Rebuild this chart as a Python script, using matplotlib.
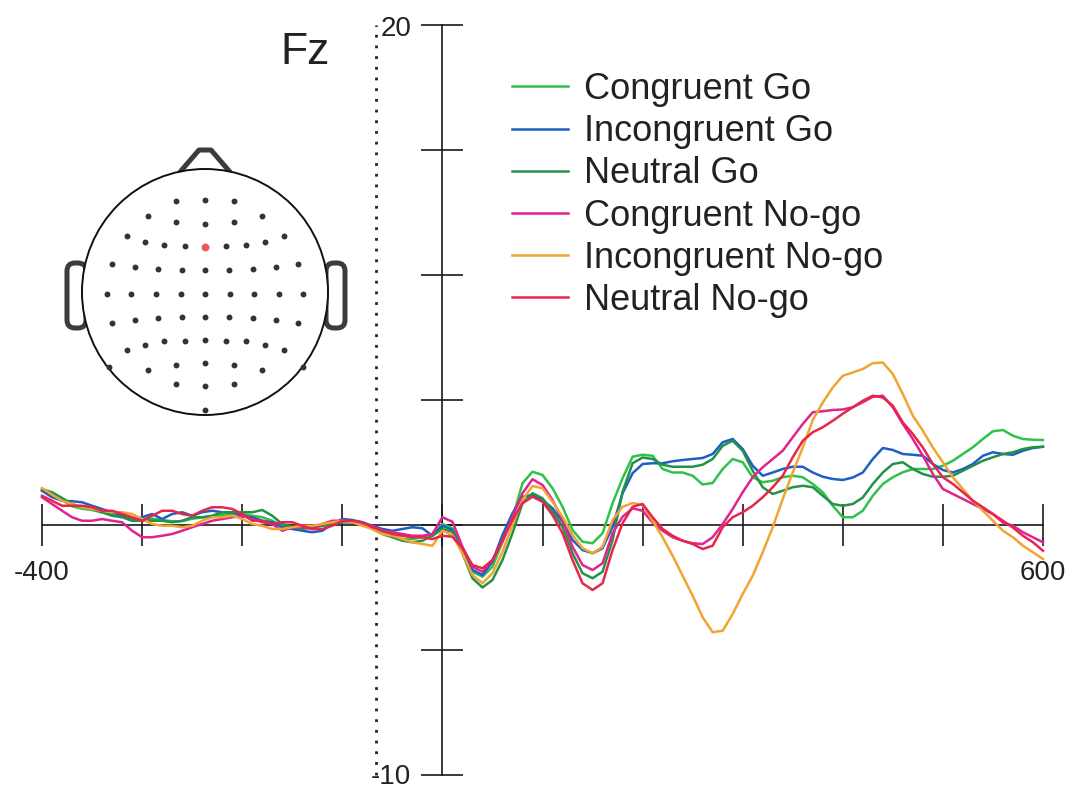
import numpy as np
import matplotlib.pyplot as plt
from matplotlib.patches import Circle, FancyBboxPatch

plt.rcParams['font.family'] = ['Liberation Sans', 'DejaVu Sans']

# ERP at Fz, amplitude in uV sampled every 10 ms from -400 to 600 ms
times = np.arange(-400, 601, 10)

congruent_go = [
    1.40, 1.20, 1.00, 0.75, 0.65, 0.60, 0.50, 0.45, 0.35, 0.25, 0.20, 0.25, 0.20, 0.15, 0.15, 0.25, 0.30, 0.35, 0.40, 0.45, 0.45,
    0.37, 0.31, 0.17, -0.03, -0.09, -0.09, -0.09, -0.03, 0.04, 0.11, 0.11, 0.04, -0.09, -0.29, -0.43, -0.56, -0.56, -0.49, -0.36, 0.04,
    -0.13, -1.07, -1.87, -2.07, -1.67, -0.67, 0.27, 1.67, 2.13, 2.00, 1.47, 0.73, -0.20, -0.67, -0.73, -0.33, 0.87, 1.87, 2.73, 2.81,
    2.77, 2.24, 2.10, 2.10, 1.97, 1.62, 1.68, 2.24, 2.64, 2.51, 1.91, 1.71, 1.77, 1.91, 1.97, 1.91, 1.64, 1.31, 0.77,
    0.31, 0.31, 0.57, 1.17, 1.64, 1.91, 2.11, 2.24, 2.24, 2.24, 2.37, 2.57, 2.84, 3.11, 3.44, 3.75, 3.80, 3.57, 3.44, 3.41, 3.40]
incongruent_go = [
    1.37, 1.11, 0.97, 0.95, 0.91, 0.77, 0.64, 0.51, 0.37, 0.17, 0.31, 0.44, 0.24, 0.44, 0.51, 0.37, 0.51, 0.57, 0.51, 0.51, 0.37,
    0.31, 0.17, 0.11, -0.09, -0.16, -0.23, -0.29, -0.23, 0.04, 0.24, 0.20, 0.11, -0.03, -0.16, -0.23, -0.16, -0.09, -0.13, -0.43, -0.03,
    -0.20, -1.07, -1.80, -2.00, -1.47, -0.40, 0.47, 1.13, 1.20, 1.00, 0.67, 0.13, -0.60, -1.00, -1.13, -0.93, -0.07, 1.27, 2.07, 2.44,
    2.47, 2.47, 2.55, 2.60, 2.64, 2.68, 2.84, 3.31, 3.44, 3.04, 2.37, 1.97, 2.10, 2.24, 2.33, 2.33, 2.10, 1.93, 1.84,
    1.80, 1.90, 2.10, 2.64, 3.08, 3.00, 2.84, 2.81, 2.77, 2.44, 2.20, 2.10, 2.24, 2.44, 2.77, 2.91, 2.84, 2.81, 2.97, 3.08, 3.13]
neutral_go = [
    1.44, 1.31, 1.08, 0.84, 0.71, 0.64, 0.51, 0.37, 0.31, 0.17, 0.17, 0.17, 0.17, 0.11, 0.17, 0.31, 0.31, 0.37, 0.51, 0.51, 0.51,
    0.51, 0.60, 0.37, 0.04, -0.09, -0.16, -0.09, -0.03, 0.04, 0.11, 0.11, 0.04, -0.16, -0.36, -0.49, -0.63, -0.69, -0.63, -0.43, -0.16,
    -0.27, -1.13, -2.13, -2.50, -2.20, -1.40, -0.33, 0.87, 1.27, 1.07, 0.53, -0.07, -1.13, -1.93, -2.13, -1.87, -0.60, 1.33, 2.47, 2.70,
    2.64, 2.41, 2.33, 2.33, 2.33, 2.41, 2.64, 3.17, 3.37, 2.97, 2.17, 1.51, 1.24, 1.37, 1.51, 1.57, 1.51, 1.17, 0.84,
    0.77, 0.84, 1.10, 1.64, 2.10, 2.44, 2.51, 2.24, 2.04, 1.93, 1.93, 1.97, 2.17, 2.37, 2.57, 2.71, 2.84, 2.91, 3.04, 3.11, 3.13]
congruent_nogo = [
    1.11, 0.84, 0.57, 0.31, 0.17, 0.17, 0.24, 0.17, 0.11, -0.23, -0.49, -0.49, -0.43, -0.36, -0.23, -0.09, 0.04, 0.17, 0.24, 0.31, 0.37,
    0.24, 0.11, 0.04, -0.23, -0.09, -0.09, -0.16, 0.04, 0.17, 0.17, 0.11, 0.04, -0.03, -0.23, -0.29, -0.36, -0.43, -0.43, -0.36, 0.31,
    0.13, -0.87, -1.67, -1.87, -1.40, -0.67, 0.33, 1.27, 1.83, 1.60, 1.00, 0.20, -0.87, -1.60, -1.80, -1.53, -0.33, 0.33, 0.67, 0.57,
    0.10, -0.23, -0.49, -0.63, -0.73, -0.76, -0.49, 0.04, 0.64, 1.31, 1.91, 2.31, 2.64, 2.97, 3.51, 4.04, 4.51, 4.55, 4.60,
    4.62, 4.71, 4.91, 5.13, 5.17, 4.71, 4.04, 3.44, 2.77, 2.04, 1.44, 1.24, 1.04, 0.84, 0.64, 0.44, 0.10, -0.03, -0.29, -0.49, -0.69]
incongruent_nogo = [
    1.48, 1.21, 0.97, 0.84, 0.71, 0.64, 0.57, 0.51, 0.51, 0.44, 0.24, 0.04, -0.03, -0.03, -0.09, -0.03, 0.17, 0.31, 0.31, 0.37, 0.24,
    0.04, -0.03, -0.16, -0.16, -0.09, -0.03, -0.03, 0.04, 0.11, 0.17, 0.11, -0.03, -0.16, -0.36, -0.43, -0.56, -0.69, -0.76, -0.83, -0.23,
    -0.40, -1.13, -2.00, -2.33, -1.93, -1.07, 0.00, 1.00, 1.56, 1.47, 0.93, 0.33, -0.40, -0.93, -1.13, -0.87, 0.20, 0.73, 0.88, 0.80,
    0.17, -0.49, -1.23, -2.03, -2.83, -3.69, -4.29, -4.23, -3.56, -2.76, -2.03, -1.09, -0.09, 1.04, 2.10, 3.10, 4.20, 4.90, 5.50,
    5.97, 6.10, 6.24, 6.47, 6.50, 6.04, 5.24, 4.37, 3.77, 3.10, 2.51, 1.91, 1.44, 0.97, 0.57, 0.17, -0.23, -0.49, -0.83, -1.09, -1.36]
neutral_nogo = [
    1.17, 0.97, 0.77, 0.77, 0.77, 0.71, 0.57, 0.57, 0.44, 0.31, 0.17, 0.37, 0.57, 0.57, 0.44, 0.37, 0.57, 0.71, 0.71, 0.64, 0.44,
    0.17, 0.17, 0.04, 0.11, 0.11, -0.03, -0.16, -0.16, -0.03, 0.17, 0.17, 0.11, -0.09, -0.23, -0.36, -0.43, -0.49, -0.49, -0.56, -0.43,
    -0.47, -0.93, -1.60, -1.73, -1.40, -0.60, 0.20, 0.87, 1.13, 0.93, 0.40, -0.33, -1.40, -2.33, -2.60, -2.33, -1.00, 0.07, 0.73, 0.84,
    0.31, -0.16, -0.43, -0.63, -0.76, -0.96, -0.83, -0.09, 0.31, 0.51, 0.77, 1.11, 1.51, 1.97, 2.71, 3.37, 3.71, 3.91, 4.17,
    4.45, 4.71, 4.97, 5.17, 5.10, 4.77, 4.10, 3.64, 3.10, 2.44, 1.91, 1.64, 1.31, 0.97, 0.71, 0.44, 0.17, -0.10, -0.43, -0.69, -1.03]

labels = ['Congruent Go', 'Incongruent Go', 'Neutral Go',
          'Congruent No-go', 'Incongruent No-go', 'Neutral No-go']
series = [congruent_go, incongruent_go, neutral_go,
          congruent_nogo, incongruent_nogo, neutral_nogo]
colors = ['#2ec24b', '#1d5fc4', '#239248', '#e0248f', '#f2a431', '#e8264c']

x_ticks = np.arange(-400, 601, 100)
y_ticks = np.arange(-10, 21, 5)
marker_time = -66  # dotted reference line (ms)

# electrode layout (pixel offsets from head centre), Fz highlighted
elec_dx = [-29, 0, 29, -57, 57, -29, 0, 29, -78, 79, -60, 60, -41, -20, 21, 41,
           -93, 93, -70, 71, -47, 48, -23, 0, 24,
           -98, -74, -49, -24, 0, 25, 49, 74, 98,
           -93, 93, -70, 71, -47, 48, -23, 0, 24,
           -78, 79, -60, 60, -41, -20, 0, 21, 41,
           -96, 98, -57, 57, -29, 0, 29, -29, 0, 29, 0]
elec_dy = [-91, -92, -91, -76, -76, -70, -68, -70, -56, -56, -50, -50, -47, -46, -46, -47,
           -28, -28, -25, -25, -23, -23, -22, -22, -22,
           2, 2, 2, 2, 2, 2, 2, 2, 2,
           31, 31, 28, 28, 26, 26, 25, 25, 25,
           58, 58, 53, 53, 49, 49, 48, 49, 49,
           75, 75, 78, 78, 73, 71, 73, 92, 94, 92, 118]
fz_dx, fz_dy = 0, -45

fig = plt.figure(figsize=(10.77, 7.88), dpi=100)
ax = fig.add_axes([0, 0, 1, 1])
ax.set_xlim(-442, 634)
ax.set_ylim(-10.52, 21.0)

for vals, lab, col in zip(series, labels, colors):
    ax.plot(times, vals, color=col, lw=1.8, label=lab, zorder=3)

# axes crossing at the origin
axis_col = '#1a1a1a'
text_col = '#222222'
for side in ['top', 'right']:
    ax.spines[side].set_visible(False)
ax.spines['left'].set_position(('data', 0))
ax.spines['bottom'].set_position(('data', 0))
ax.spines['left'].set_bounds(-10, 20)
ax.spines['bottom'].set_bounds(-400, 600)
for side in ['left', 'bottom']:
    ax.spines[side].set_linewidth(1.2)
    ax.spines[side].set_color(axis_col)
ax.set_xticks(x_ticks)
ax.set_yticks(y_ticks)
ax.tick_params(axis='both', direction='inout', length=30, width=1.2,
               color=axis_col, labelbottom=False, labelleft=False)

# only the end values are labelled
ax.text(x_ticks[0], -1.9, str(x_ticks[0]), fontsize=20, color=text_col,
        ha='center', va='center')
ax.text(x_ticks[-1], -1.9, str(x_ticks[-1]), fontsize=20, color=text_col,
        ha='center', va='center')
ax.text(-31, y_ticks[-1] - 0.15, str(y_ticks[-1]), fontsize=20,
        color=text_col, ha='right', va='center')
ax.text(-31, y_ticks[0] - 0.08, str(y_ticks[0]), fontsize=20,
        color=text_col, ha='right', va='center')

ax.vlines(marker_time, -10, 20, colors='#222222', lw=2.0,
          linestyles=(0, (1, 2.85)), zorder=2)

leg = ax.legend(loc='upper left', bbox_to_anchor=(512 / 1077, 1 - 72 / 788),
                bbox_transform=fig.transFigure, frameon=False, fontsize=26,
                handlelength=1.55, handletextpad=0.45, labelspacing=0.2,
                borderpad=0, borderaxespad=0)
for txt in leg.get_texts():
    txt.set_color(text_col)

fig.text(305 / 1077, 1 - 52 / 788, 'Fz', fontsize=32, color=text_col,
         ha='center', va='center')

# head inset, drawn in pixel units
hx, hy = 205, 292
axh = fig.add_axes([40 / 1077, 1 - 440 / 788, 340 / 1077, 310 / 788])
axh.set_xlim(40, 380)
axh.set_ylim(440, 130)
axh.axis('off')
head_col = '#3c3c3c'
for ex in [67, 326]:
    axh.add_patch(FancyBboxPatch((ex, 263), 19, 65,
                                 boxstyle='round,pad=0,rounding_size=8',
                                 facecolor='white', edgecolor=head_col,
                                 lw=3.6, zorder=1))
axh.plot([hx - 25, hx - 6, hx + 6, hx + 25], [172, 150, 150, 172],
         color=head_col, lw=3.6, solid_joinstyle='round',
         solid_capstyle='round', zorder=1)
axh.add_patch(Circle((hx, hy), 123, facecolor='white', edgecolor='#111111',
                     lw=1.4, zorder=2))
axh.scatter(hx + np.array(elec_dx), hy + np.array(elec_dy), s=18,
            color='#333333', zorder=3, linewidths=0)
axh.scatter([hx + fz_dx], [hy + fz_dy], s=32, color='#e8595c', zorder=3,
            linewidths=0)

fig.savefig('out.png', dpi=100)
